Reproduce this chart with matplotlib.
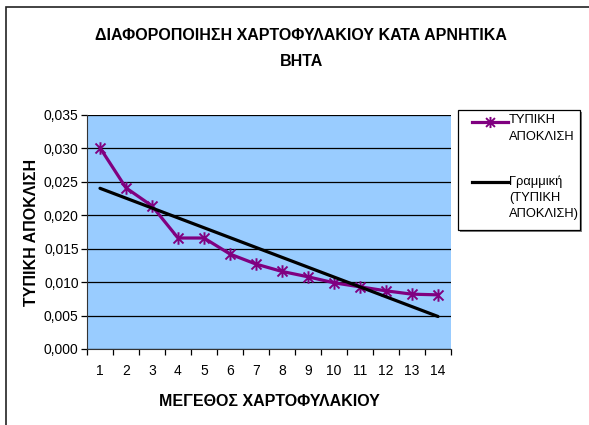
import numpy as np
import matplotlib
matplotlib.use("Agg")
import matplotlib.pyplot as plt
from matplotlib.path import Path
from matplotlib.patches import Rectangle
from matplotlib.lines import Line2D
from matplotlib.ticker import FuncFormatter, FixedLocator

plt.rcParams['font.family'] = ['Liberation Sans', 'DejaVu Sans']

# μέγεθος χαρτοφυλακίου και τυπική απόκλιση
sizes = np.arange(1, 15)
std_dev = [0.0301, 0.0241, 0.0214, 0.0166, 0.0166, 0.0142, 0.0127,
           0.0116, 0.0108, 0.0099, 0.0093, 0.0087, 0.0082, 0.0081]

title_lines = ["ΔΙΑΦΟΡΟΠΟΙΗΣΗ ΧΑΡΤΟΦΥΛΑΚΙΟΥ ΚΑΤΑ ΑΡΝΗΤΙΚΑ", "ΒΗΤΑ"]
xlabel = "ΜΕΓΕΘΟΣ ΧΑΡΤΟΦΥΛΑΚΙΟΥ"
ylabel = "ΤΥΠΙΚΗ ΑΠΟΚΛΙΣΗ"
series_label = "ΤΥΠΙΚΗ\nΑΠΟΚΛΙΣΗ"
trend_label = "Γραμμική\n(ΤΥΠΙΚΗ\nΑΠΟΚΛΙΣΗ)"

PURPLE = "#800080"
BG = "#99CCFF"
W, H = 589, 425

# αστεροειδής δείκτης (Χ + κάθετη γραμμή)
star = Path([(-1, -1), (1, 1), (-1, 1), (1, -1), (0, -1.25), (0, 1.25)],
            [Path.MOVETO, Path.LINETO, Path.MOVETO, Path.LINETO, Path.MOVETO, Path.LINETO])

# γραμμική τάση
slope, intercept = np.polyfit(sizes, std_dev, 1)
trend = slope * sizes + intercept

fig = plt.figure(figsize=(W / 100, H / 100), dpi=100)
fig.patches.append(Rectangle((6 / W, -0.2), 2, 0.2 + 1 - 7 / H, transform=fig.transFigure,
                             fill=False, edgecolor="#222222", linewidth=1.2))

ax = fig.add_axes([87 / W, 1 - 349 / H, (451 - 87) / W, (349 - 115) / H])
ax.set_facecolor(BG)
ax.plot(sizes, std_dev, color=PURPLE, linewidth=2.3, marker=star, markersize=9,
        markeredgewidth=1.4, markeredgecolor=PURPLE, zorder=3)
ax.plot(sizes, trend, color="black", linewidth=2.3, solid_capstyle="round", zorder=4)

ax.set_xlim(0.5, 14.5)
ax.set_ylim(0, 0.035)
ax.set_yticks(np.arange(0, 0.0351, 0.005))
ax.yaxis.set_major_formatter(FuncFormatter(lambda v, p: f"{v:.3f}".replace(".", ",")))
ax.yaxis.grid(True, color="black", linewidth=0.9)
ax.set_axisbelow(True)

ax.xaxis.set_major_locator(FixedLocator(np.arange(0.5, 15, 1)))
ax.xaxis.set_major_formatter(FuncFormatter(lambda v, p: ""))
ax.xaxis.set_minor_locator(FixedLocator(sizes))
ax.set_xticklabels([str(s) for s in sizes], minor=True)
ax.tick_params(axis="x", which="major", length=4, width=0.9, direction="out")
ax.tick_params(axis="x", which="minor", length=0, pad=11, labelsize=10)
ax.tick_params(axis="y", length=4, width=0.9, pad=2, labelsize=10)

for s in ("top", "right"):
    ax.spines[s].set_visible(False)
ax.spines["left"].set_color("#333333")
ax.spines["bottom"].set_color("#333333")

ax.set_xlabel(xlabel, fontsize=11.5, fontweight="bold", labelpad=11)
fig.text(32 / W, 1 - 232 / H, ylabel, rotation=90, ha="center", va="center",
         fontsize=11.5, fontweight="bold")
for line, yc in zip(title_lines, [35, 61]):
    fig.text(301 / W, 1 - yc / H, line, ha="center", va="center",
             fontsize=11.5, fontweight="bold")

# υπόμνημα
lx0, ly0, lx1, ly1 = 458, 110, 580, 230
fig.patches.append(Rectangle(((lx0 + 2) / W, 1 - (ly1 + 2) / H), (lx1 - lx0) / W, (ly1 - ly0) / H,
                             transform=fig.transFigure, facecolor="#808080", edgecolor="none"))
fig.patches.append(Rectangle((lx0 / W, 1 - ly1 / H), (lx1 - lx0) / W, (ly1 - ly0) / H,
                             transform=fig.transFigure, facecolor="white", edgecolor="black",
                             linewidth=0.9))
fig.lines.append(Line2D([472 / W, 508 / W], [1 - 122 / H] * 2, transform=fig.transFigure,
                        color=PURPLE, linewidth=2.3))
fig.lines.append(Line2D([490 / W], [1 - 122 / H], transform=fig.transFigure, color=PURPLE,
                        marker=star, markersize=8, markeredgewidth=1.4, linestyle="none"))
fig.lines.append(Line2D([472 / W, 508 / W], [1 - 182 / H] * 2, transform=fig.transFigure,
                        color="black", linewidth=2.3))
fig.text(509 / W, 1 - 114 / H, series_label, ha="left", va="top", fontsize=9.3, linespacing=1.5)
fig.text(509 / W, 1 - 175 / H, trend_label, ha="left", va="top", fontsize=9.3, linespacing=1.5)

fig.savefig("out.png", dpi=100)
